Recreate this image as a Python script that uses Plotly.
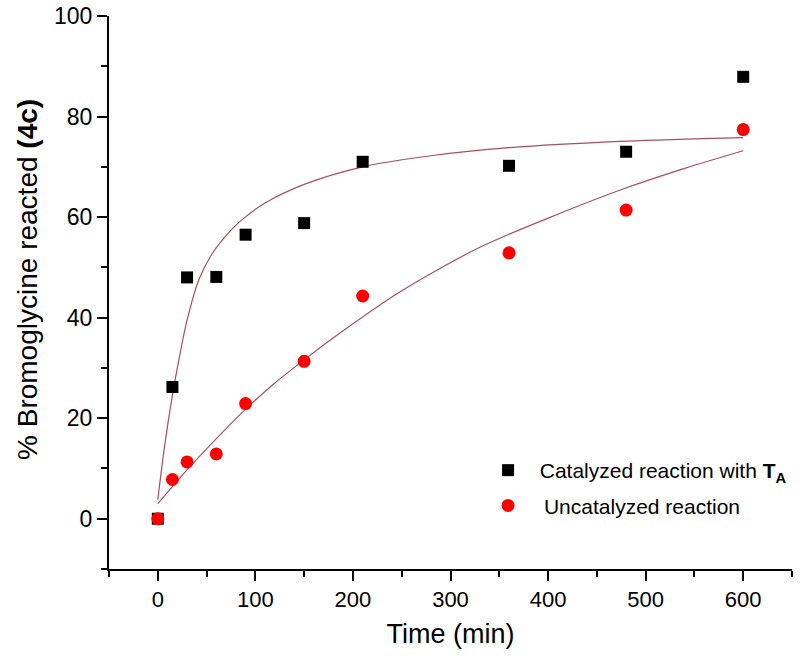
import plotly.graph_objects as go

# Measured data
time_min = [0, 15, 30, 60, 90, 150, 210, 360, 480, 600]
catalyzed = [0, 26.2, 48.0, 48.1, 56.5, 58.8, 71.0, 70.2, 73.0, 87.9]
uncatalyzed = [0, 7.8, 11.3, 12.9, 22.9, 31.3, 44.3, 52.9, 61.4, 77.4]

# Fit curves
fit_cat_x = [0, 7, 14.5, 22, 30, 42, 55, 70, 84, 110, 150, 210, 280, 360, 480, 600]
fit_cat_y = [3.8, 14.5, 24, 32, 39.5, 47.5, 52.5, 56.3, 59.1, 62.8, 66.5, 70, 72.2, 73.8, 75.1, 75.8]
fit_unc_x = [0, 15, 30, 50, 88.5, 120, 150, 180, 248, 330, 400, 474, 540, 600]
fit_unc_y = [3.0, 6.4, 9.7, 13.9, 21.5, 27.0, 31.6, 36.0, 45.1, 54.0, 59.8, 65.4, 69.7, 73.2]

x_ticks = [0, 100, 200, 300, 400, 500, 600]
y_ticks = [0, 20, 40, 60, 80, 100]

fit_color = "#a8505e"
NB = "\u00a0"
FONT = "Liberation Sans, Arial"

fig = go.Figure()
fig.add_trace(go.Scatter(x=fit_cat_x, y=fit_cat_y, mode="lines",
                         line=dict(color=fit_color, width=1.2, shape="spline", smoothing=0.8),
                         showlegend=False, hoverinfo="skip"))
fig.add_trace(go.Scatter(x=fit_unc_x, y=fit_unc_y, mode="lines",
                         line=dict(color=fit_color, width=1.2, shape="spline", smoothing=0.8),
                         showlegend=False, hoverinfo="skip"))
fig.add_trace(go.Scatter(x=time_min, y=catalyzed, mode="markers",
                         marker=dict(symbol="square", size=12, color="black"),
                         name=NB * 2 + "Catalyzed reaction with <b>T<sub>A</sub></b>", legendgroup="a"))
fig.add_trace(go.Scatter(x=time_min, y=uncatalyzed, mode="markers",
                         marker=dict(symbol="circle", size=13, color="#ff0000"),
                         name=NB * 2 + "\u2009Uncatalyzed reaction", legendgroup="b"))

axis_common = dict(showline=True, linecolor="black", linewidth=2, ticks="outside", ticklen=10, tickwidth=1.5,
                   tickcolor="black", showgrid=False, zeroline=False, mirror=False, automargin=False,
                   ticklabeloverflow="allow")

fig.update_xaxes(range=[-50, 650], tickvals=x_ticks, ticktext=[str(v) for v in x_ticks],
                 tickfont=dict(family=FONT, size=22, color="black"),
                 title=dict(text="Time (min)", font=dict(family=FONT, size=27, color="black"), standoff=13),
                 minor=dict(dtick=50, tick0=0, ticks="outside", ticklen=6, tickwidth=1.5, tickcolor="black"),
                 **axis_common)
fig.update_yaxes(range=[-10, 100], tickvals=y_ticks, ticktext=[str(v) for v in y_ticks],
                 tickfont=dict(family=FONT, size=23, color="black"),
                 minor=dict(dtick=10, tick0=0, ticks="outside", ticklen=6, tickwidth=1.5, tickcolor="black"),
                 **axis_common)

fig.add_annotation(text="% Bromoglycine reacted <b>(4c)</b>", textangle=-90,
                   xref="paper", yref="paper", x=-0.119, y=0.524, xanchor="center", yanchor="middle",
                   showarrow=False, font=dict(family=FONT, size=28, color="black"))

fig.update_layout(
    width=800, height=662,
    margin=dict(l=109, r=8, t=16, b=93),
    plot_bgcolor="white", paper_bgcolor="white",
    legend=dict(x=0.555, y=0.2152, xanchor="left", yanchor="top", bgcolor="rgba(0,0,0,0)",
                font=dict(family=FONT, size=21, color="black"), tracegroupgap=5),
)

fig.write_html("out.html", config={"displayModeBar": False},
               post_script="document.body.style.margin='0';")
